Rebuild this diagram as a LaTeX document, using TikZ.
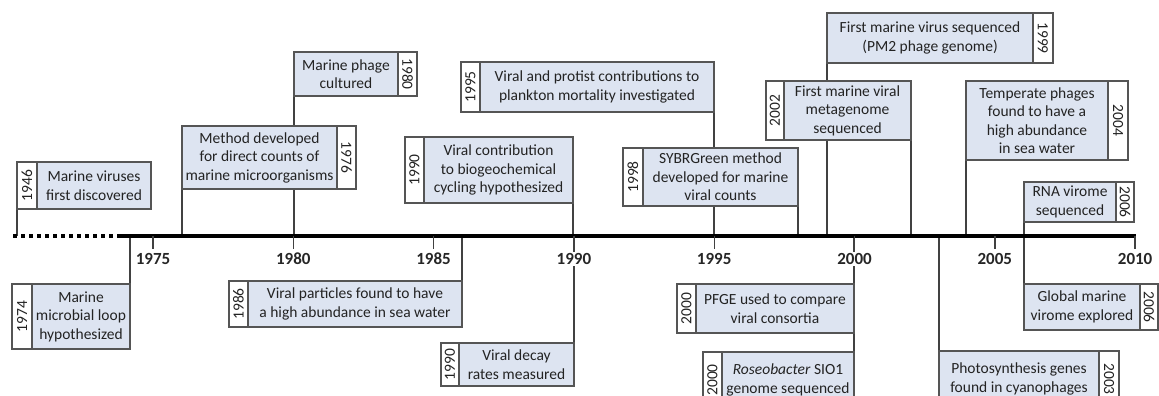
\documentclass[tikz,border=0pt]{standalone}
\usepackage{fontspec}
\setmainfont{Carlito}
\usetikzlibrary{positioning}
\pgfdeclarelayer{background}
\pgfsetlayers{background,main}
\definecolor{boxfill}{RGB}{221,228,241}
\definecolor{boxline}{RGB}{85,85,85}
\definecolor{linkgray}{RGB}{65,65,65}
\definecolor{txtgray}{RGB}{35,35,35}

\begin{document}
\begin{tikzpicture}[x=1pt, y=-1pt, node distance=0pt, font=\fontsize{15.5}{18.5}\selectfont,
    evt/.style={draw=boxline, fill=boxfill, line width=1.1pt, outer sep=0pt, align=center, inner sep=1pt, text=txtgray, anchor=north west},
    yr/.style={draw=boxline, fill=white, line width=1.1pt, outer sep=0pt, inner sep=0pt, text=txtgray},
    link/.style={draw=linkgray, line width=1.4pt},
    yrlab/.style={fill=white, inner sep=1pt, font=\fontsize{17}{20}\selectfont\bfseries, text=black!85}]
    \useasboundingbox (0,0) rectangle (1159,396);
    \clip (0,0) rectangle (1159,396);
    \coordinate (axis) at (0,235.5);
    \coordinate (dotstart) at (13,235.5);
    \coordinate (axstart) at (118,235.5);
    \coordinate (axend) at (1136,235.5);

    % events above the axis
    \node[evt, minimum width=114pt, minimum height=47pt] (e1946) at (37,162) {Marine viruses\\first discovered};
    \node[yr, minimum width=20pt, minimum height=47pt, left=of e1946] (y1946) {\rotatebox{90}{1946}};
    \node[evt, minimum width=155pt, minimum height=63pt] (e1976) at (182,126) {Method developed\\for direct counts of\\marine microorganisms};
    \node[yr, minimum width=19pt, minimum height=63pt, right=of e1976] (y1976) {\rotatebox{-90}{1976}};
    \node[evt, minimum width=104pt, minimum height=44pt] (e1980) at (294,52) {Marine phage\\cultured};
    \node[yr, minimum width=19pt, minimum height=44pt, right=of e1980] (y1980) {\rotatebox{-90}{1980}};
    \node[evt, minimum width=149pt, minimum height=66pt] (e1990a) at (424,137) {Viral contribution\\to biogeochemical\\cycling hypothesized};
    \node[yr, minimum width=19pt, minimum height=66pt, left=of e1990a] (y1990a) {\rotatebox{90}{1990}};
    \node[evt, minimum width=234pt, minimum height=50pt] (e1995) at (480,62) {Viral and protist contributions to\\plankton mortality investigated};
    \node[yr, minimum width=19pt, minimum height=50pt, left=of e1995] (y1995) {\rotatebox{90}{1995}};
    \node[evt, minimum width=155pt, minimum height=58pt] (e1998) at (643,148) {SYBRGreen method\\developed for marine\\viral counts};
    \node[yr, minimum width=20pt, minimum height=58pt, left=of e1998] (y1998) {\rotatebox{90}{1998}};
    \node[evt, minimum width=206pt, minimum height=50pt] (e1999) at (827,13) {First marine virus sequenced\\(PM2 phage genome)};
    \node[yr, minimum width=20pt, minimum height=50pt, right=of e1999] (y1999) {\rotatebox{-90}{1999}};
    \node[evt, minimum width=127pt, minimum height=59pt] (e2002) at (784,81) {First marine viral\\metagenome\\sequenced};
    \node[yr, minimum width=18pt, minimum height=59pt, left=of e2002] (y2002) {\rotatebox{90}{2002}};
    \node[evt, minimum width=142pt, minimum height=79pt] (e2004) at (966,81) {Temperate phages\\found to have a\\high abundance\\in sea water};
    \node[yr, minimum width=20pt, minimum height=79pt, right=of e2004] (y2004) {\rotatebox{-90}{2004}};
    \node[evt, minimum width=92pt, minimum height=40pt] (e2006a) at (1024,182) {RNA virome\\sequenced};
    \node[yr, minimum width=18pt, minimum height=40pt, right=of e2006a] (y2006a) {\rotatebox{-90}{2006}};

    % events below the axis
    \node[evt, minimum width=98pt, minimum height=65pt] (e1974) at (32,284) {Marine\\microbial loop\\hypothesized};
    \node[yr, minimum width=20pt, minimum height=65pt, left=of e1974] (y1974) {\rotatebox{90}{1974}};
    \node[evt, minimum width=214pt, minimum height=46pt] (e1986) at (248,281) {Viral particles found to have\\a high abundance in sea water};
    \node[yr, minimum width=19pt, minimum height=46pt, left=of e1986] (y1986) {\rotatebox{90}{1986}};
    \node[evt, minimum width=115pt, minimum height=43pt] (e1990b) at (459,343) {Viral decay\\rates measured};
    \node[yr, minimum width=18pt, minimum height=43pt, left=of e1990b] (y1990b) {\rotatebox{90}{1990}};
    \node[evt, minimum width=158pt, minimum height=49pt] (e2000a) at (696,284) {PFGE used to compare\\viral consortia};
    \node[yr, minimum width=19pt, minimum height=49pt, left=of e2000a] (y2000a) {\rotatebox{90}{2000}};
    \node[evt, minimum width=132pt, minimum height=56pt] (e2000b) at (722,352) {\textit{Roseobacter} SIO1\\genome sequenced};
    \node[yr, minimum width=19pt, minimum height=56pt, left=of e2000b] (y2000b) {\rotatebox{90}{2000}};
    \node[evt, minimum width=160pt, minimum height=56pt] (e2003) at (939,351) {Photosynthesis genes\\found in cyanophages};
    \node[yr, minimum width=20pt, minimum height=56pt, right=of e2003] (y2003) {\rotatebox{-90}{2003}};
    \node[evt, minimum width=116pt, minimum height=46pt] (e2006b) at (1024,284) {Global marine\\virome explored};
    \node[yr, minimum width=18pt, minimum height=46pt, right=of e2006b] (y2006b) {\rotatebox{-90}{2006}};

    % links to the axis
    \begin{pgfonlayer}{background}
    \draw[link] (y1946.south west) -- (y1946.south west |- axis);
    \draw[link] (e1976.south west) -- (e1976.south west |- axis);
    \draw[link] (e1980.south west) -- (e1980.south west |- axis);
    \draw[link] (e1990a.south east) -- (e1990a.south east |- axis);
    \draw[link] (e1995.south east) -- (e1995.south east |- axis);
    \draw[link] (e1998.south east) -- (e1998.south east |- axis);
    \draw[link] (e1999.south west) -- (e1999.south west |- axis);
    \draw[link] (e2002.south east) -- (e2002.south east |- axis);
    \draw[link] (e2004.south west) -- (e2004.south west |- axis);
    \draw[link] (e2006a.south west) -- (e2006a.south west |- axis);
    \draw[link] (e1974.north east |- axis) -- (e1974.north east);
    \draw[link] (e1986.north east |- axis) -- (e1986.north east);
    \draw[link] (e1990b.north east |- axis) -- (e1990b.north east);
    \draw[link] (e2000a.north east |- axis) -- (e2000a.north east);
    \draw[link] (e2000a.south east) -- (e2000b.north east);
    \draw[link] (e2003.north west |- axis) -- (e2003.north west);
    \draw[link] (e2006b.north west |- axis) -- (e2006b.north west);
    \end{pgfonlayer}

    % the time axis
    \draw[line width=4pt, dash pattern=on 4pt off 4pt] (dotstart) -- (axstart);
    \draw[line width=4pt] (axstart) -- (axend);
    \foreach \yr [count=\i from 0] in {1975,1980,...,2010} {
        \draw[link] (153+140.3*\i,235.5) -- ++(0,13);
        \node[yrlab] (t\yr) at (153+140.3*\i,259) {\yr};
    }
\end{tikzpicture}
\end{document}
